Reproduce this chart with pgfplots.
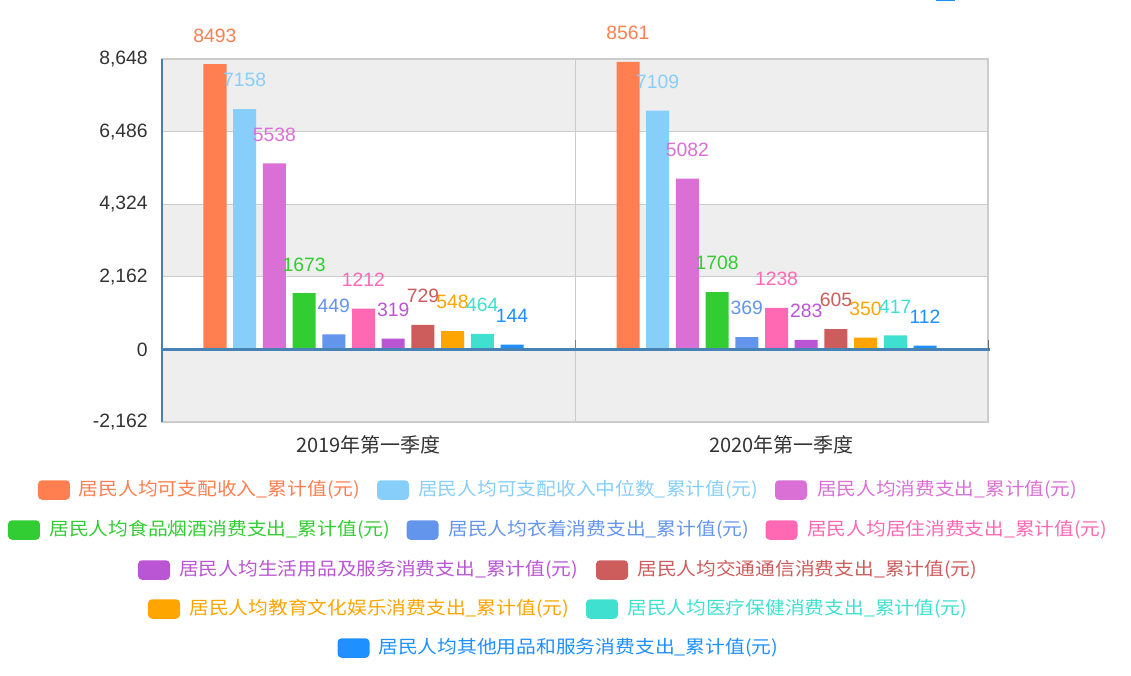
\documentclass[border=0pt]{standalone}
\usepackage{fontspec}
\setmainfont{Liberation Sans}
\newfontfamily\cjk{Noto Sans CJK SC}
\usepackage{graphicx}
\usepackage{pgfplots}
\pgfplotsset{compat=1.18}

\definecolor{cA}{HTML}{FF7F50}
\definecolor{cB}{HTML}{87CEFA}
\definecolor{cC}{HTML}{DA70D6}
\definecolor{cD}{HTML}{32CD32}
\definecolor{cE}{HTML}{6495ED}
\definecolor{cF}{HTML}{FF69B4}
\definecolor{cG}{HTML}{BA55D3}
\definecolor{cH}{HTML}{CD5C5C}
\definecolor{cI}{HTML}{FFA500}
\definecolor{cJ}{HTML}{40E0D0}
\definecolor{cK}{HTML}{1E90FF}
\definecolor{steel}{HTML}{4682B4}
\definecolor{gridc}{HTML}{CCCCCC}
\definecolor{band}{HTML}{EEEEEE}
\definecolor{txt}{HTML}{333333}

% one bar series: colour, bar shift
\pgfplotsset{bs/.style 2 args={ybar, bar width=17.25pt, bar shift=#2, fill=#1, draw=none,
  nodes near coords style={text=#1, xshift=#2}}}

\newcommand{\legitem}[6]{%
  \fill[#1, rounded corners=3pt] (#2,#3-9.75) rectangle (#2+32,#3+9.75);
  \node[anchor=west, inner sep=0pt, text=#1, font=\cjk\fontsize{13.5}{16}\selectfont]
    at (#4,#3) {\resizebox{#5pt}{\height}{#6}};}

\begin{document}
\begin{tikzpicture}
\begin{axis}[
  at={(0,0)}, anchor=south west,
  scale only axis, width=619.5pt, height=272.25pt,
  set layers,
  xmin=-0.5, xmax=1.5, ymin=-2162, ymax=8648,
  enlargelimits=false, clip=false,
  xtick={0,1},
  xticklabels={2019年第一季度,2020年第一季度},
  ytick={-2162,0,2162,4324,6486,8648},
  yticklabels={{-2,162},{0},{2,162},{4,324},{6,486},{8,648}},
  xticklabel style={font=\cjk\fontsize{15}{18}\selectfont, text=txt,
    anchor=center, inner sep=0pt, yshift=-17.25pt},
  yticklabel style={font=\fontsize{14.5}{17}\selectfont, text=txt,
    anchor=east, inner sep=0pt, xshift=-10.5pt},
  tick style={draw=none},
  ymajorgrids, grid style={draw=gridc, line width=0.75pt},
  axis line style={draw=gridc, line width=1.1pt},
  nodes near coords={\pgfmathprintnumber[assume math mode=true,1000 sep={},fixed,precision=0]{\pgfplotspointmeta}},
  nodes near coords align=vertical,
  every node near coord/.append style={font=\fontsize{14.5}{17}\selectfont, inner sep=0pt, yshift=16.3pt},
]
\begin{pgfonlayer}{axis background}
\fill[band] (axis cs:-0.5,6486) rectangle (axis cs:1.5,8648);
\fill[white] (axis cs:-0.5,4324) rectangle (axis cs:1.5,6486);
\fill[band] (axis cs:-0.5,2162) rectangle (axis cs:1.5,4324);
\fill[white] (axis cs:-0.5,0) rectangle (axis cs:1.5,2162);
\fill[band] (axis cs:-0.5,-2162) rectangle (axis cs:1.5,0);
\end{pgfonlayer}
\begin{pgfonlayer}{axis grid}
\draw[gridc, line width=0.75pt] (axis cs:0.5,-2162) -- (axis cs:0.5,8648);
\end{pgfonlayer}

\addplot[bs={cA}{-115.125pt}] coordinates {(0,8493) (1,8561)};
\addplot[bs={cB}{-92.85pt}]   coordinates {(0,7158) (1,7109)};
\addplot[bs={cC}{-70.575pt}]  coordinates {(0,5538) (1,5082)};
\addplot[bs={cD}{-48.3pt}]    coordinates {(0,1673) (1,1708)};
\addplot[bs={cE}{-26.025pt}]  coordinates {(0,449) (1,369)};
\addplot[bs={cF}{-3.75pt}]    coordinates {(0,1212) (1,1238)};
\addplot[bs={cG}{18.525pt}]   coordinates {(0,319) (1,283)};
\addplot[bs={cH}{40.8pt}]     coordinates {(0,729) (1,605)};
\addplot[bs={cI}{63.075pt}]   coordinates {(0,548) (1,350)};
\addplot[bs={cJ}{85.35pt}]    coordinates {(0,464) (1,417)};
\addplot[bs={cK}{107.625pt}]  coordinates {(0,144) (1,112)};

\draw[steel, line width=2.25pt] (axis cs:-0.5,0) -- (axis cs:1.505,0);
\draw[steel, line width=1.8pt] (axis cs:-0.5,-2162) -- (axis cs:-0.5,8648);
\draw[gray, line width=0.75pt] (axis cs:0.5,0) -- (axis cs:0.5,270);
\draw[gray!80!black, line width=0.75pt] (axis cs:1.5,0) -- (axis cs:1.5,270);
\end{axis}

\begin{scope}[shift={(-121.5pt,316.5pt)},x=0.75pt,y=-0.75pt]
\fill[cK] (936,0) rectangle (955,1.5);
\legitem{cA}{38}{490}{78.5}{211.1}{居民人均可支配收入\_累计值(元)}
\legitem{cB}{377}{490}{418}{255}{居民人均可支配收入中位数\_累计值(元)}
\legitem{cC}{775}{490}{817}{195}{居民人均消费支出\_累计值(元)}
\legitem{cD}{8}{530}{49}{255.75}{居民人均食品烟酒消费支出\_累计值(元)}
\legitem{cE}{406.5}{530}{448}{225.75}{居民人均衣着消费支出\_累计值(元)}
\legitem{cF}{765.5}{530}{807}{225}{居民人均居住消费支出\_累计值(元)}
\legitem{cG}{138}{570}{179}{299.25}{居民人均生活用品及服务消费支出\_累计值(元)}
\legitem{cH}{596}{570}{637}{255}{居民人均交通通信消费支出\_累计值(元)}
\legitem{cI}{148}{609}{189}{285}{居民人均教育文化娱乐消费支出\_累计值(元)}
\legitem{cJ}{586}{609}{627}{255}{居民人均医疗保健消费支出\_累计值(元)}
\legitem{cK}{337.5}{648}{378}{300}{居民人均其他用品和服务消费支出\_累计值(元)}
\end{scope}
\pgfresetboundingbox
\path[use as bounding box] (-121.5pt,-189.75pt) rectangle (726.75pt,316.5pt);
\end{tikzpicture}
\end{document}
